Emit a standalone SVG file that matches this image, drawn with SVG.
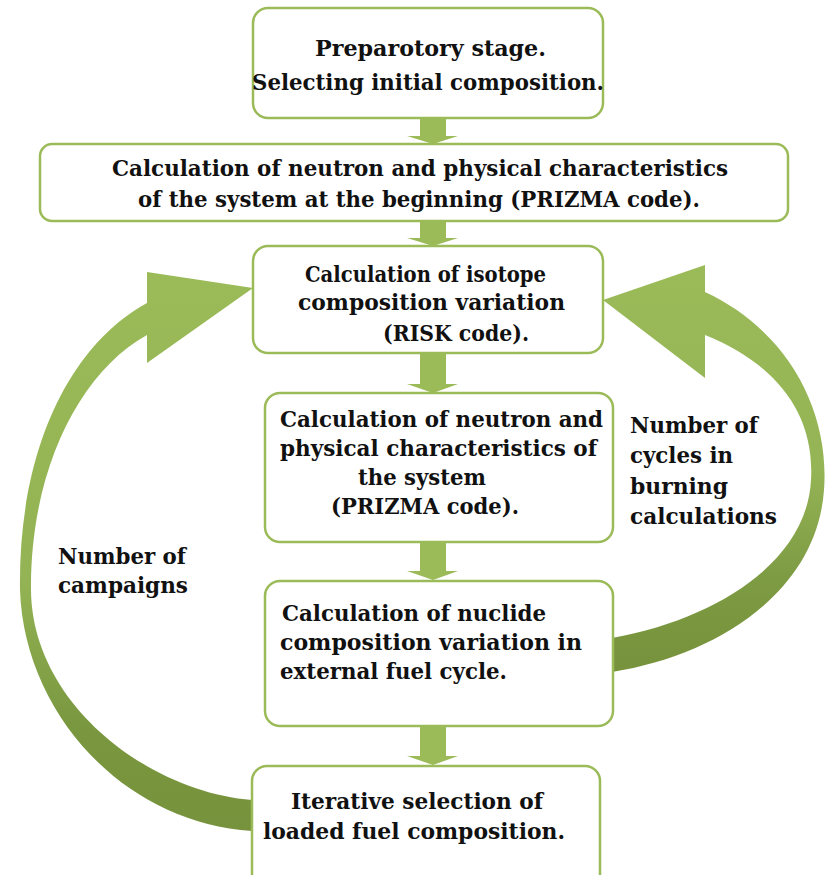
<svg xmlns="http://www.w3.org/2000/svg" width="825" height="875" viewBox="0 0 825 875">
<defs>
<linearGradient id="gl" gradientUnits="userSpaceOnUse" x1="0" y1="270" x2="0" y2="835">
<stop offset="0" stop-color="#9BBB59"/><stop offset="0.55" stop-color="#93B354"/><stop offset="0.8" stop-color="#7A9840"/><stop offset="1" stop-color="#76923C"/>
</linearGradient>
<linearGradient id="gr" gradientUnits="userSpaceOnUse" x1="0" y1="265" x2="0" y2="675">
<stop offset="0" stop-color="#9BBB59"/><stop offset="0.5" stop-color="#94B455"/><stop offset="0.75" stop-color="#7E9C44"/><stop offset="1" stop-color="#76923C"/>
</linearGradient>
<style>
.box{fill:#fff;stroke:#9BBB59;stroke-width:2.5}
.t{font-family:"DejaVu Serif","Liberation Serif",serif;font-weight:bold;font-size:22px;fill:#111}
.va{fill:#9BBB59}
</style>
</defs>
<g id="connectors">
<path id="loop-left" fill="url(#gl)" d="M147,303 C70,345 18,450 20,590 C24,710 120,822 252,831 L252,800 C150,792 32,705 31,590 C30,470 80,372 147,335 L147,363 L253,288 L147,272 Z"/>
<path id="loop-right" fill="url(#gr)" d="M705,292 C787,330 830,410 824,490 C817,590 720,655 612,672 L612,638 C720,618 807,560 811,480 C815,410 772,362 705,335 L705,378 L603,300 L705,265 Z"/>
<path class="va" d="M420,118 H446 V136 H458 L433,144 L407,136 H420 Z"/>
<path class="va" d="M420,221 H446 V238 H458 L433,246 L407,238 H420 Z"/>
<path class="va" d="M420,353 H446 V384 H458 L433,393 L407,384 H420 Z"/>
<path class="va" d="M420,542 H446 V571 H458 L433,580 L407,571 H420 Z"/>
<path class="va" d="M420,726 H446 V756 H458 L433,765 L407,756 H420 Z"/>
</g>
<g id="n1">
<rect class="box" x="253" y="8" width="350" height="110" rx="15"/>
<text class="t" x="315" y="56" textLength="231" lengthAdjust="spacingAndGlyphs">Preparotory stage.</text>
<text class="t" x="252" y="90" textLength="352" lengthAdjust="spacingAndGlyphs">Selecting initial composition.</text>
</g>
<g id="n2">
<rect class="box" x="40" y="144" width="748" height="77" rx="12"/>
<text class="t" x="112" y="176" textLength="616" lengthAdjust="spacingAndGlyphs">Calculation of neutron and physical characteristics</text>
<text class="t" x="138" y="207" textLength="562" lengthAdjust="spacingAndGlyphs">of the system at the beginning (PRIZMA code).</text>
</g>
<g id="n3">
<rect class="box" x="253" y="246" width="350" height="107" rx="15"/>
<text class="t" x="305" y="282" textLength="241" lengthAdjust="spacingAndGlyphs">Calculation of isotope</text>
<text class="t" x="298" y="310" textLength="267" lengthAdjust="spacingAndGlyphs">composition variation</text>
<text class="t" x="383" y="341" textLength="146" lengthAdjust="spacingAndGlyphs">(RISK code).</text>
</g>
<g id="n4">
<rect class="box" x="265" y="393" width="348" height="149" rx="15"/>
<text class="t" x="280" y="427" textLength="323" lengthAdjust="spacingAndGlyphs">Calculation of neutron and</text>
<text class="t" x="280" y="456" textLength="317" lengthAdjust="spacingAndGlyphs">physical characteristics of</text>
<text class="t" x="358" y="485" textLength="128" lengthAdjust="spacingAndGlyphs">the system</text>
<text class="t" x="331" y="514" textLength="188" lengthAdjust="spacingAndGlyphs">(PRIZMA code).</text>
</g>
<g id="n5">
<rect class="box" x="265" y="581" width="348" height="145" rx="15"/>
<text class="t" x="282" y="621" textLength="264" lengthAdjust="spacingAndGlyphs">Calculation of nuclide</text>
<text class="t" x="280" y="650" textLength="302" lengthAdjust="spacingAndGlyphs">composition variation in</text>
<text class="t" x="280" y="679" textLength="227" lengthAdjust="spacingAndGlyphs">external fuel cycle.</text>
</g>
<g id="n6">
<rect class="box" x="252" y="766" width="348" height="125" rx="15"/>
<text class="t" x="291" y="809" textLength="252" lengthAdjust="spacingAndGlyphs">Iterative selection of</text>
<text class="t" x="263" y="839" textLength="302" lengthAdjust="spacingAndGlyphs">loaded fuel composition.</text>
</g>
<g id="label-campaigns">
<text class="t" x="58" y="564" textLength="128" lengthAdjust="spacingAndGlyphs">Number of</text>
<text class="t" x="58" y="593" textLength="130" lengthAdjust="spacingAndGlyphs">campaigns</text>
</g>
<g id="label-cycles">
<text class="t" x="630" y="433" textLength="128" lengthAdjust="spacingAndGlyphs">Number of</text>
<text class="t" x="630" y="463" textLength="103" lengthAdjust="spacingAndGlyphs">cycles in</text>
<text class="t" x="630" y="494" textLength="98" lengthAdjust="spacingAndGlyphs">burning</text>
<text class="t" x="630" y="524" textLength="147" lengthAdjust="spacingAndGlyphs">calculations</text>
</g>
</svg>
